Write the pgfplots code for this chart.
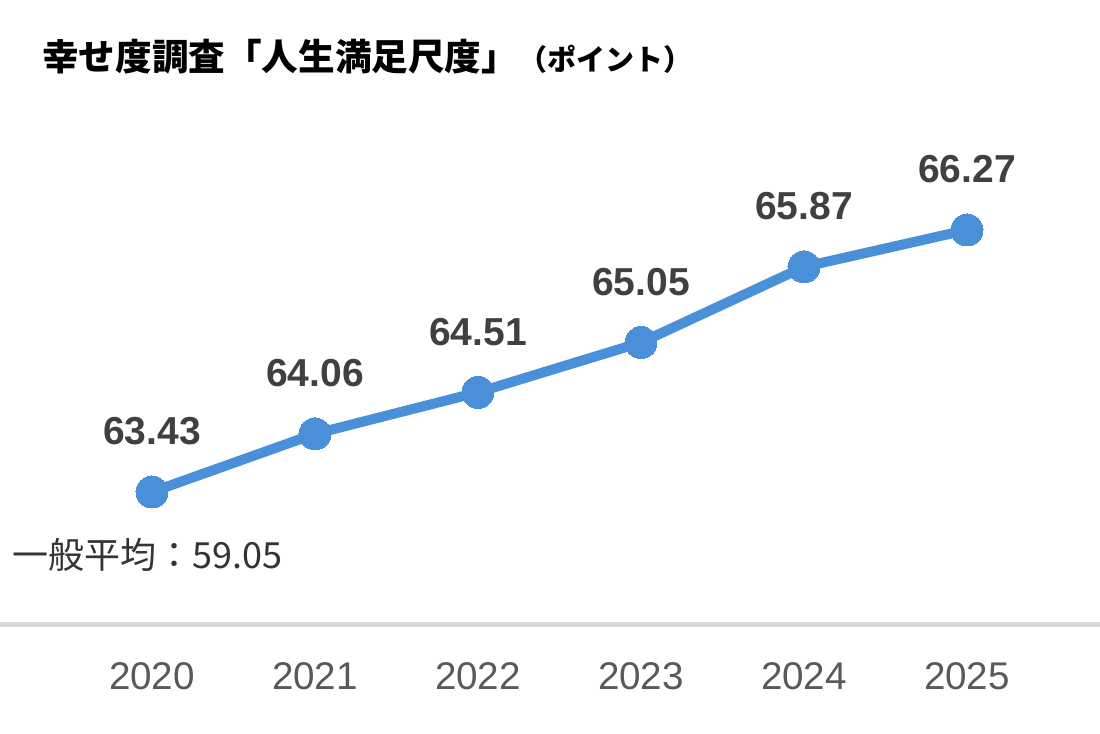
\documentclass[border=0pt]{standalone}
\usepackage{pgfplots}
\pgfplotsset{compat=1.18}
\usepackage{fontspec}
\setmainfont{Liberation Sans}
\newfontfamily\cjk{Noto Sans CJK JP}
\definecolor{lineblue}{RGB}{74,144,217}
\definecolor{axgray}{RGB}{217,217,217}
\definecolor{ticktext}{RGB}{89,89,89}
\definecolor{labeltext}{RGB}{64,64,64}
\begin{document}
\begin{tikzpicture}
\useasboundingbox (0,-54.5pt) rectangle (550pt,312.5pt);
\begin{axis}[
  at={(0,0)}, anchor=south west,
  scale only axis,
  width=550pt, height=262.5pt,
  xmin=2019.0675, xmax=2025.816,
  ymin=61.988, ymax=67.679,
  axis x line=bottom,
  axis y line=none,
  x axis line style={draw=axgray, line width=2.5pt, -},
  xtick={2020,2021,2022,2023,2024,2025},
  xticklabels={2020,2021,2022,2023,2024,2025},
  major tick length=0pt,
  xticklabel style={anchor=base, yshift=-32.5pt, font=\fontsize{19.3}{22}\selectfont, text=ticktext, inner sep=0pt},
  clip=false,
  nodes near coords,
  point meta=explicit symbolic,
  every node near coord/.append style={anchor=base, yshift=23.5pt, inner sep=0pt, font=\fontsize{19.5}{22}\selectfont\bfseries, text=labeltext},
]
\addplot[color=lineblue, line width=5pt, mark=*, mark size=8pt, mark options={fill=lineblue, draw=lineblue, line width=0pt}]
coordinates {
(2020,63.43) [63.43]
(2021,64.06) [64.06]
(2022,64.51) [64.51]
(2023,65.05) [65.05]
(2024,65.87) [65.87]
(2025,66.27) [66.27]
};
\end{axis}
\node[anchor=west, inner sep=0pt] at (21pt,284pt) {\cjk\bfseries\fontsize{18.3}{21}\selectfont 幸せ度調査「人生満足尺度」\fontsize{14.5}{17}\selectfont（ポイント）};
\node[anchor=west, inner sep=0pt, text=black!80] at (6pt,35pt) {\cjk\fontsize{18}{21}\selectfont 一般平均：59.05};
\end{tikzpicture}
\end{document}
